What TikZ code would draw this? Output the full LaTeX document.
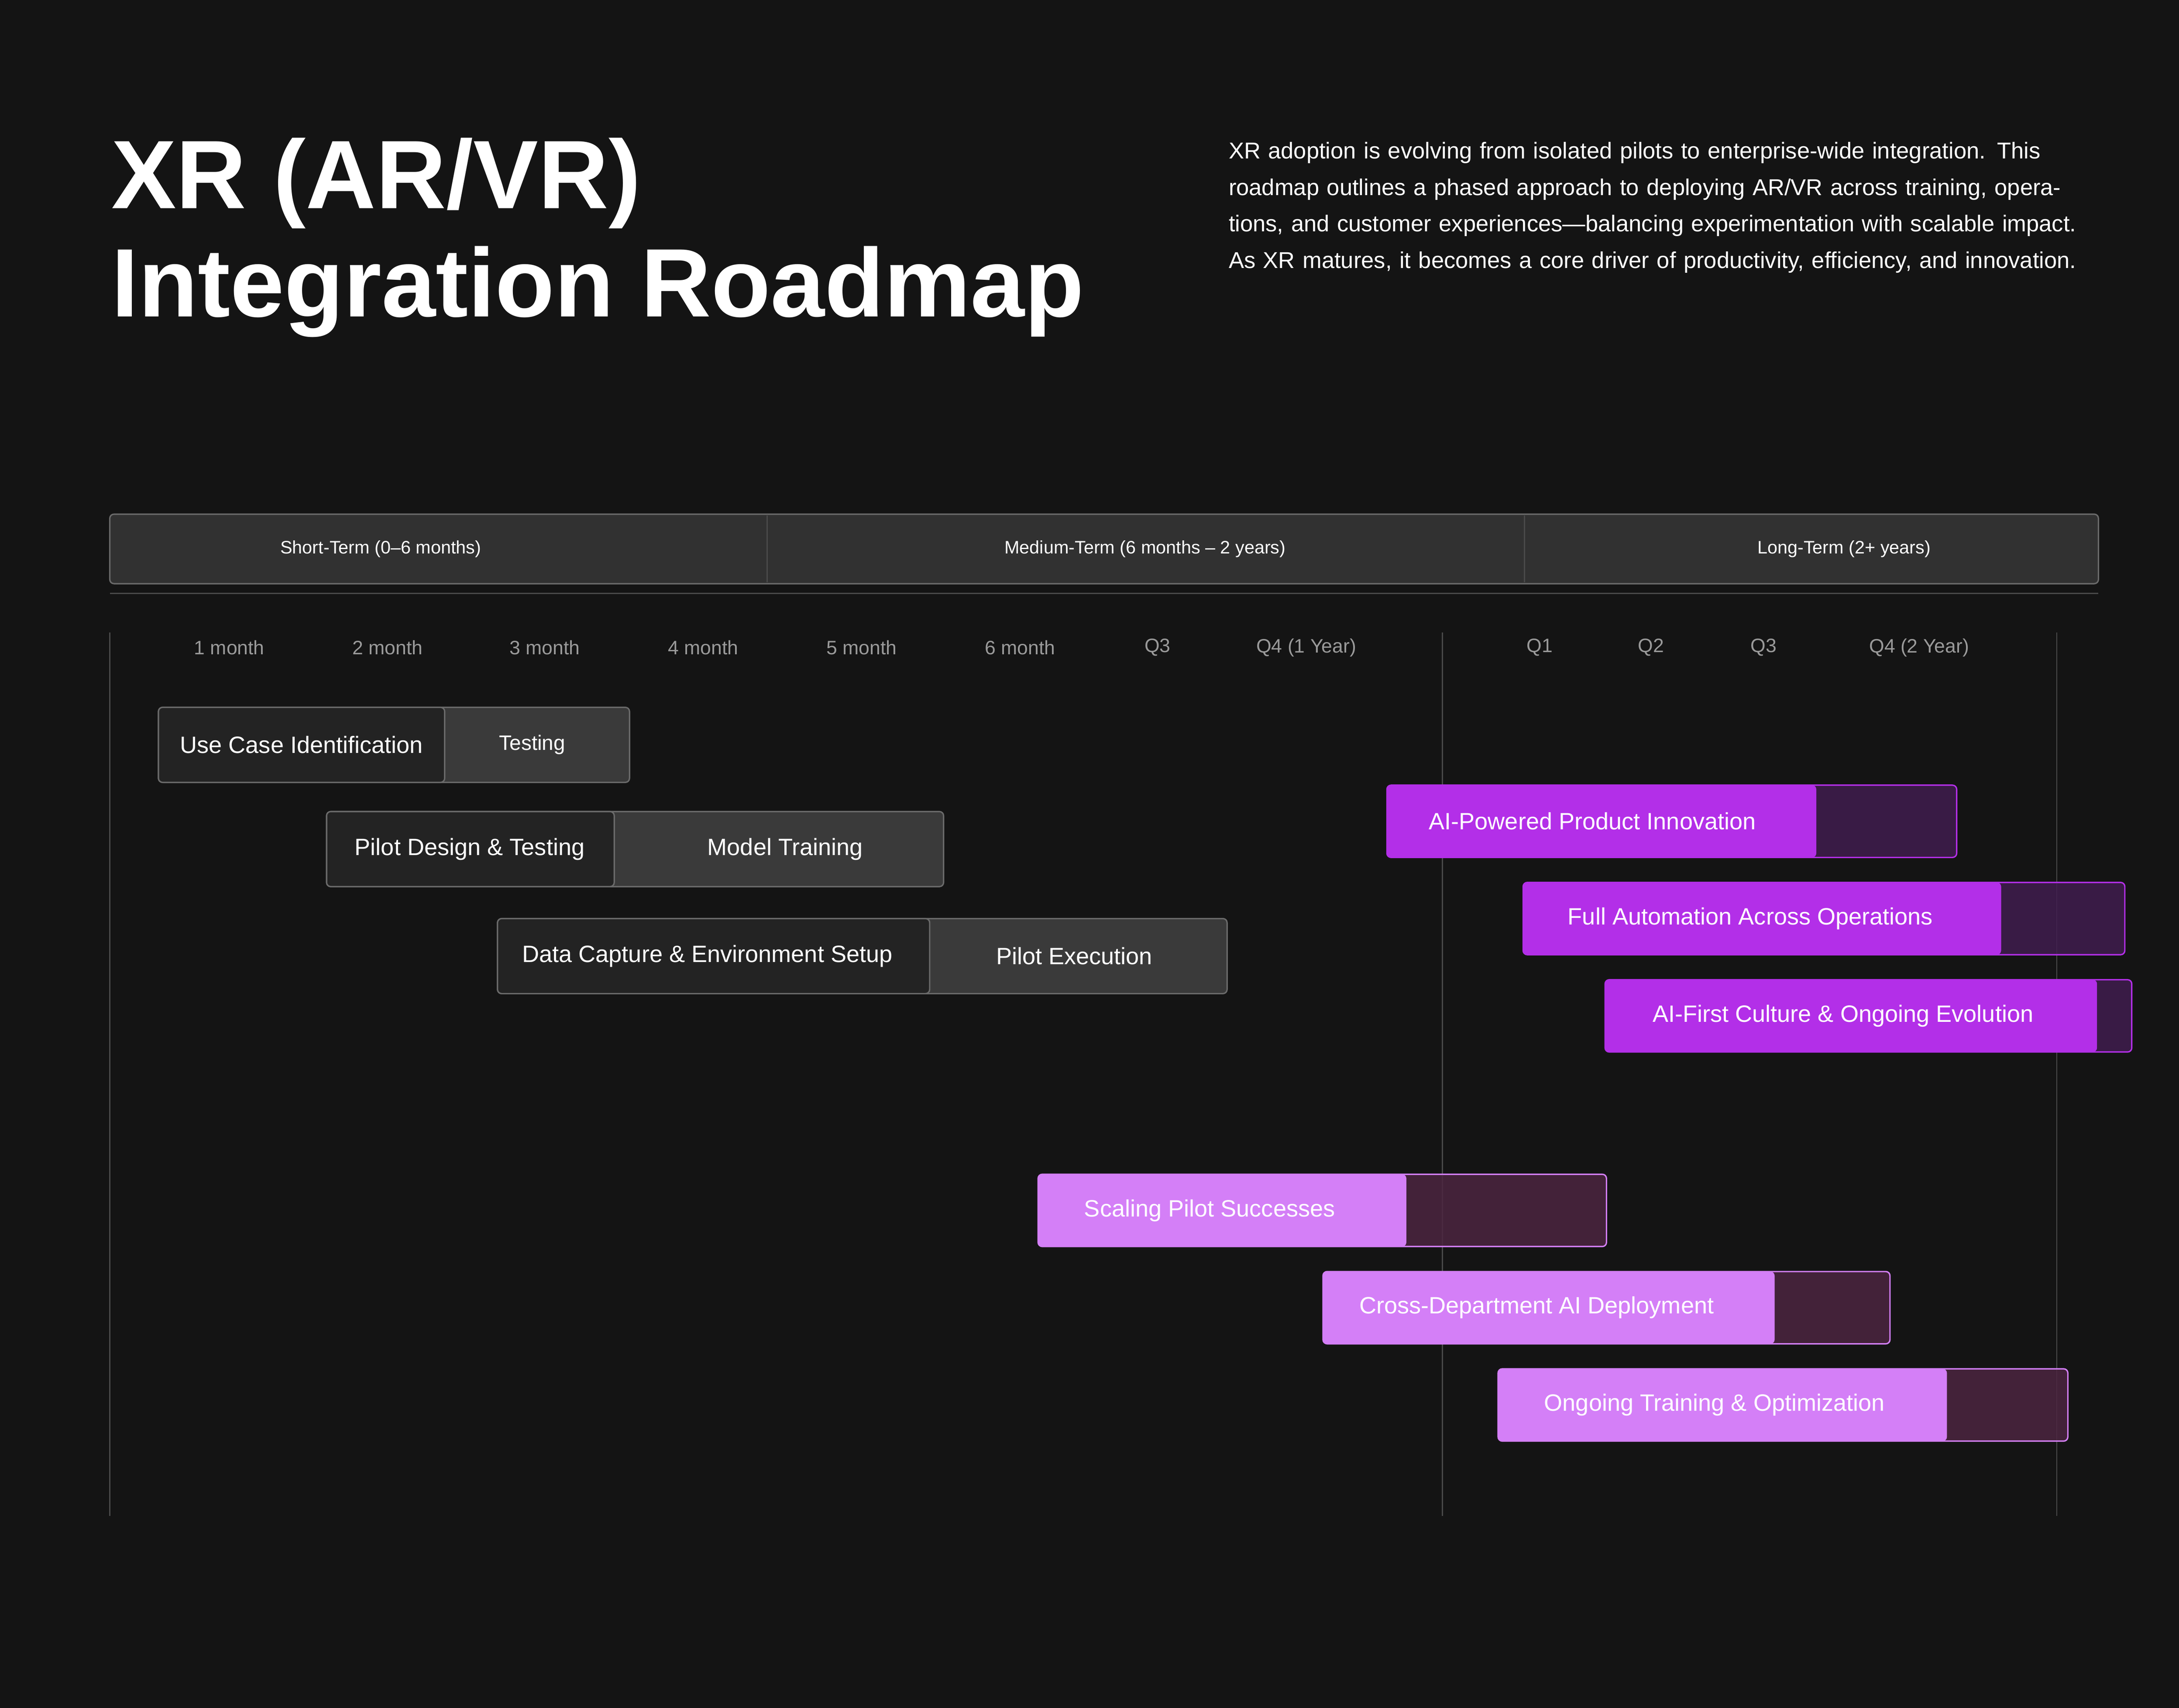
\documentclass[tikz,border=0pt]{standalone}
\usepackage{fontspec}
\setmainfont{Liberation Sans}
\begin{document}
\begin{tikzpicture}[x=1pt,y=-1pt,
  bg/.style={fill=bgc},
  hdr/.style={font=\fontsize{13}{15}\selectfont, text=white},
  tick/.style={font=\fontsize{14}{16}\selectfont, text=tickc},
  gline/.style={draw=linec, line width=0.8pt},
  gouter/.style={draw=gbord, line width=1pt, rounded corners=3pt, fill=gout},
  ginner/.style={draw=gbord, line width=1pt, rounded corners=3pt, fill=ginn},
  bartext/.style={font=\fontsize{17}{19}\selectfont, text=white},
  pouter/.style={draw=pbr, line width=1pt, rounded corners=3pt, fill=pdk, fill opacity=0.85},
  pinner/.style={rounded corners=3pt, fill=pbr},
  louter/.style={draw=lbr, line width=1pt, rounded corners=3pt, fill=ldk, fill opacity=0.85},
  linner/.style={rounded corners=3pt, fill=lbr}]
\definecolor{bgc}{HTML}{141414}
\definecolor{tickc}{HTML}{9A9A9A}
\definecolor{linec}{HTML}{4A4A4A}
\definecolor{gbord}{HTML}{6A6A6A}
\definecolor{gout}{HTML}{3A3A3A}
\definecolor{ginn}{HTML}{232323}
\definecolor{pbr}{HTML}{B32FE8}
\definecolor{pdk}{HTML}{401D4E}
\definecolor{lbr}{HTML}{D47FF7}
\definecolor{ldk}{HTML}{4C2540}
\definecolor{hfill}{HTML}{313131}
\fill[bgc] (0,0) rectangle (1568,1229);
\useasboundingbox (0,0) rectangle (1568,1229);
% title
\node[anchor=base west, font=\fontsize{70}{76}\selectfont\bfseries, text=white, inner sep=0] (t1) at (80,150) {XR (AR/VR)};
\node[anchor=base west, font=\fontsize{70}{76}\selectfont\bfseries, text=white, inner sep=0] (t2) at (80,228) {Integration Roadmap};
\node[anchor=north west, text width=630pt, align=left, inner sep=0, font=\fontsize{16.5}{26.3}\selectfont, text=white] (desc) at (884,102) {XR adoption is evolving from isolated pilots to enterprise-wide integration. This roadmap outlines a phased approach to deploying AR/VR across training, operations, and customer experiences---balancing experimentation with scalable impact. As XR matures, it becomes a core driver of productivity, efficiency, and innovation.};
% header
\draw[draw=gbord, fill=hfill, rounded corners=3pt, line width=1pt] (79,370) rectangle (1510,420);
\draw[linec, line width=1pt] (552,371) -- (552,419);
\draw[linec, line width=1pt] (1097,371) -- (1097,419);
\node[hdr] (h1) at (274,395) {Short-Term (0--6 months)};
\node[hdr] (h2) at (824,395) {Medium-Term (6 months -- 2 years)};
\node[hdr] (h3) at (1327,395) {Long-Term (2+ years)};
\draw[linec, line width=1.2pt] (79,427) -- (1510,427);
% verticals
\draw[gline] (79,455) -- (79,1091);
\draw[gline] (1038,455) -- (1038,1091);
\draw[gline] (1480,455) -- (1480,1091);
% ticks
\foreach \x/\t/\n in {165/1 month/m1,279/2 month/m2,392/3 month/m3,506/4 month/m4,620/5 month/m5,734/6 month/m6,833/Q3/q3a,940/Q4 (1 Year)/q4a,1108/Q1/q1,1188/Q2/q2,1269/Q3/q3b,1381/Q4 (2 Year)/q4b}
  \node[tick] (\n) at (\x,466) {\t};
% gray bars
\draw[gouter] (114,509) rectangle (453,563);
\draw[ginner] (114,509) rectangle (320,563);
\node[bartext] (g1a) at (217,536) {Use Case Identification};
\node[bartext, font=\fontsize{15}{17}\selectfont] (g1b) at (383,536) {Testing};
\draw[gouter] (235,584) rectangle (679,638);
\draw[ginner] (235,584) rectangle (442,638);
\node[bartext] (g2a) at (338,611) {Pilot Design \& Testing};
\node[bartext] (g2b) at (565,611) {Model Training};
\draw[gouter] (358,661) rectangle (883,715);
\draw[ginner] (358,661) rectangle (669,715);
\node[bartext] (g3a) at (509,688) {Data Capture \& Environment Setup};
\node[bartext] (g3b) at (773,688) {Pilot Execution};
% purple bars
\draw[pouter] (998,565) rectangle (1408,617);
\fill[pinner] (998,565) rectangle (1307,617);
\node[bartext, anchor=west, inner sep=0] (p1) at (1028,591) {AI-Powered Product Innovation};
\draw[pouter] (1096,635) rectangle (1529,687);
\fill[pinner] (1096,635) rectangle (1440,687);
\node[bartext, anchor=west, inner sep=0] (p2) at (1128,661) {Full Automation Across Operations};
\draw[pouter] (1155,705) rectangle (1534,757);
\fill[pinner] (1155,705) rectangle (1509,757);
\node[bartext, anchor=west, inner sep=0] (p3) at (1189,731) {AI-First Culture \& Ongoing Evolution};
% light purple bars
\draw[louter] (747,845) rectangle (1156,897);
\fill[linner] (747,845) rectangle (1012,897);
\node[bartext, anchor=west, inner sep=0] (l1) at (780,871) {Scaling Pilot Successes};
\draw[louter] (952,915) rectangle (1360,967);
\fill[linner] (952,915) rectangle (1277,967);
\node[bartext, anchor=west, inner sep=0] (l2) at (978,941) {Cross-Department AI Deployment};
\draw[louter] (1078,985) rectangle (1488,1037);
\fill[linner] (1078,985) rectangle (1401,1037);
\node[bartext, anchor=west, inner sep=0] (l3) at (1111,1011) {Ongoing Training \& Optimization};
\end{tikzpicture}
\end{document}
